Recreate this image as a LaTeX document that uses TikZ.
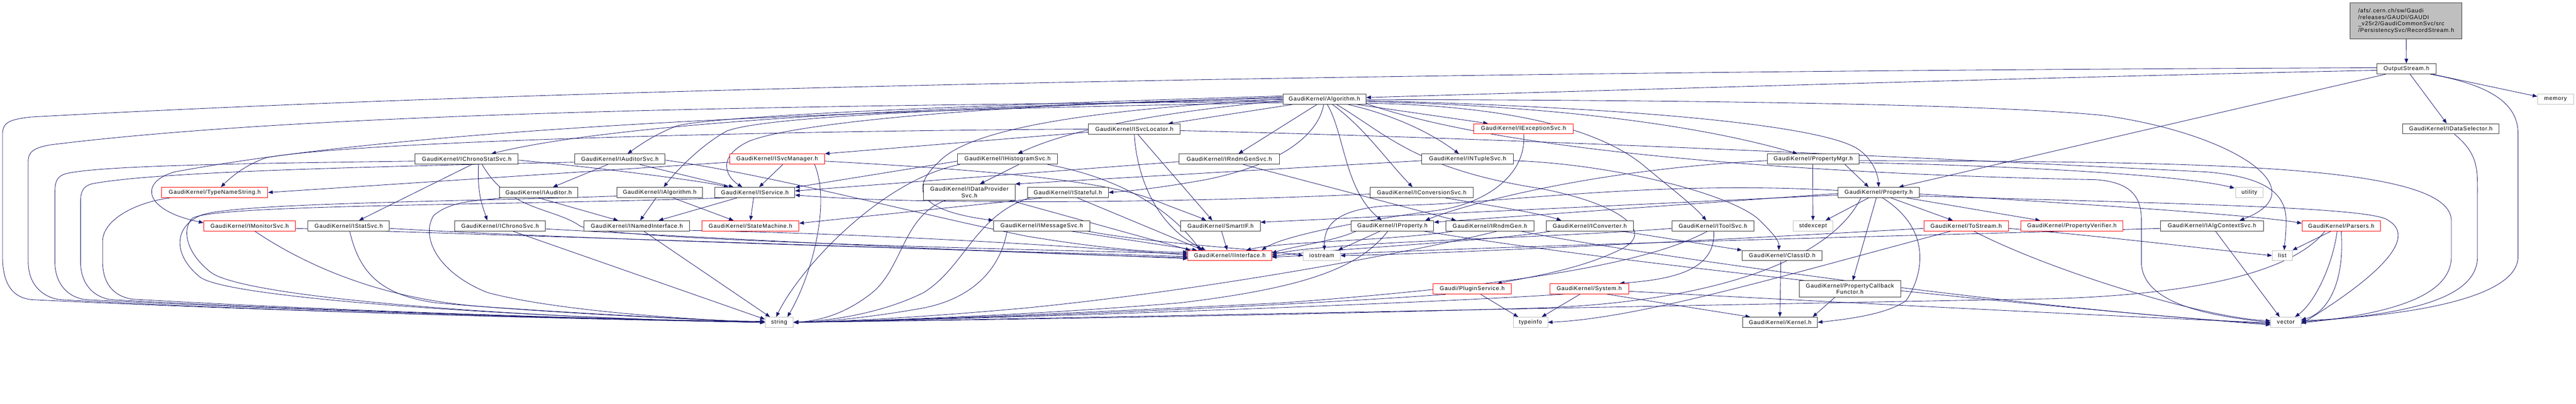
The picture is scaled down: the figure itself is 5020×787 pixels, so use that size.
\documentclass[tikz,border=0pt]{standalone}
\usepackage{fontspec}
\newfontfamily\dx{Liberation Sans}[LetterSpace=8]
\usetikzlibrary{arrows.meta,calc}
\pgfdeclarelayer{background}
\pgfsetlayers{background,main}
\definecolor{edgec}{HTML}{191970}
\definecolor{grayb}{HTML}{BFBFBF}
\definecolor{topfill}{HTML}{BFBFBF}
\tikzset{
 nd/.style={draw=black!80, line width=1pt, fill=white, inner sep=0pt, minimum height=20pt, align=center, font=\dx\fontsize{11}{12.5}\selectfont},
 rd/.style={nd, draw=red},
 gn/.style={nd, draw=grayb},
 e/.style={draw=edgec, line width=0.85pt, -{Triangle[length=9pt,width=7pt]}},
}
\begin{document}
\begin{tikzpicture}[x=1pt,y=-1pt]
\useasboundingbox (0,0) rectangle (5020,787);
% nodes
\node[nd, fill=topfill, align=left, minimum width=218pt, minimum height=70pt] (top) at (4689,41) {/afs/.cern.ch/sw/Gaudi\\/releases/GAUDI/GAUDI\\\_v25r2/GaudiCommonSvc/src\\/PersistencySvc/RecordStream.h};
\node[nd, minimum width=115pt] (os) at (4689.5,134) {OutputStream.h};
\node[gn, minimum width=70pt] (mem) at (4980,193) {memory};
\node[nd, minimum width=188pt] (ids) at (4776,251) {GaudiKernel/IDataSelector.h};
\node[nd, minimum width=162pt] (alg) at (2581,193) {GaudiKernel/Algorithm.h};
\node[nd, minimum width=179pt] (isl) at (2210.5,251.5) {GaudiKernel/ISvcLocator.h};
\node[rd, minimum width=194pt] (ies) at (2969,251) {GaudiKernel/IExceptionSvc.h};
\node[nd, minimum width=178pt] (intu) at (2860,310) {GaudiKernel/INTupleSvc.h};
\node[nd, minimum width=195pt] (irgs) at (2395.5,310) {GaudiKernel/IRndmGenSvc.h};
\node[nd, minimum width=195pt] (ihs) at (1963.5,310) {GaudiKernel/IHistogramSvc.h};
\node[rd, minimum width=185pt] (ism) at (1514.5,310) {GaudiKernel/ISvcManager.h};
\node[nd, minimum width=176pt] (ias) at (1208,310) {GaudiKernel/IAuditorSvc.h};
\node[nd, minimum width=201pt] (icss) at (909.5,310) {GaudiKernel/IChronoStatSvc.h};
\node[nd, minimum width=179pt] (pm) at (3533.5,310) {GaudiKernel/PropertyMgr.h};
\node[rd, minimum width=207pt] (tns) at (418.5,375) {GaudiKernel/TypeNameString.h};
\node[nd, minimum width=153pt] (iaud) at (1049.5,375) {GaudiKernel/IAuditor.h};
\node[nd, minimum width=167pt] (ialg) at (1285.5,375) {GaudiKernel/IAlgorithm.h};
\node[nd, minimum width=156pt] (isvc) at (1471,375) {GaudiKernel/IService.h};
\node[nd, minimum width=178pt, minimum height=31pt] (idps) at (1889,374.5) {GaudiKernel/IDataProvider\\Svc.h};
\node[nd, minimum width=158pt] (istf) at (2081,375) {GaudiKernel/IStateful.h};
\node[nd, minimum width=201pt] (ics) at (2770.5,375) {GaudiKernel/IConversionSvc.h};
\node[nd, minimum width=158pt] (prop) at (3661,375) {GaudiKernel/Property.h};
\node[gn, minimum width=53pt] (util) at (4383.5,375) {utility};
\node[rd, minimum width=179pt] (imon) at (486.5,440) {GaudiKernel/IMonitorSvc.h};
\node[nd, minimum width=159pt] (istat) at (679.5,440) {GaudiKernel/IStatSvc.h};
\node[nd, minimum width=177pt] (ichs) at (974.5,440) {GaudiKernel/IChronoSvc.h};
\node[nd, minimum width=206pt] (ini) at (1241,440) {GaudiKernel/INamedInterface.h};
\node[rd, minimum width=189pt] (sm) at (1462.5,440) {GaudiKernel/StateMachine.h};
\node[nd, minimum width=188pt] (ims) at (2030,440) {GaudiKernel/IMessageSvc.h};
\node[nd, minimum width=155pt] (sif) at (2378.5,440) {GaudiKernel/SmartIF.h};
\node[nd, minimum width=161pt] (iprop) at (2713.5,440) {GaudiKernel/IProperty.h};
\node[nd, minimum width=171pt] (irg) at (2903.5,440) {GaudiKernel/IRndmGen.h};
\node[nd, minimum width=170pt] (iconv) at (3098,440) {GaudiKernel/IConverter.h};
\node[nd, minimum width=160pt] (its) at (3338,440) {GaudiKernel/IToolSvc.h};
\node[gn, minimum width=78pt] (stdx) at (3533,440) {stdexcept};
\node[rd, minimum width=165pt] (tos) at (3831.5,440) {GaudiKernel/ToStream.h};
\node[rd, minimum width=199pt] (pv) at (4037.5,440) {GaudiKernel/PropertyVerifier.h};
\node[nd, minimum width=201pt] (iacs) at (4310.5,440) {GaudiKernel/IAlgContextSvc.h};
\node[rd, minimum width=153pt] (pars) at (4562.5,440) {GaudiKernel/Parsers.h};
\node[rd, minimum width=163pt] (ii) at (2396.5,498) {GaudiKernel/IInterface.h};
\node[gn, minimum width=72pt] (iost) at (2576,498) {iostream};
\node[nd, minimum width=156pt] (cid) at (3473,498) {GaudiKernel/ClassID.h};
\node[gn, minimum width=39pt] (list) at (4447.5,498) {list};
\node[nd, minimum width=198pt, minimum height=32pt] (pcf) at (3605,563) {GaudiKernel/PropertyCallback\\Functor.h};
\node[rd, minimum width=152pt] (ps) at (2869,563) {Gaudi/PluginService.h};
\node[rd, minimum width=154pt] (sys) at (3097,562.5) {GaudiKernel/System.h};
\node[gn, minimum width=55pt] (str) at (1518.5,628) {string};
\node[gn, minimum width=67pt] (tinfo) at (2982.5,628) {typeinfo};
\node[nd, minimum width=146pt] (kern) at (3469,628) {GaudiKernel/Kernel.h};
\node[gn, minimum width=59pt] (vec) at (4454.5,628) {vector};
\begin{pgfonlayer}{background}
% top / OutputStream
\draw[e] (top) -- (os);
\draw[e] ($(os.south east)+(-8,0)$) -- ($(mem.west)+(0,-5)$);
\draw[e] ($(os.south)+(7,0)$) -- ($(ids.north)+(-8,0)$);
\draw[e] ($(os.south east)+(-12,0)$) .. controls (4850,165) and (4907,200) .. (4907,260) -- (4907,500) .. controls (4907,580) and (4700,615) .. ($(vec.east)+(0,-3)$);
\draw[e] ($(os.west)+(0,-2)$) .. controls (3000,138) and (1200,165) .. (60,228) .. controls (15,233) and (5,240) .. (5,262) -- (5,500) .. controls (5,560) and (30,582) .. (65,584) .. controls (500,605) and (1100,622) .. ($(str.west)+(0,-2)$);
\draw[e] ($(os.west)+(0,3)$) .. controls (4000,150) and (3000,180) .. ($(alg.east)+(0,-3)$);
\draw[e] ($(os.south west)+(18,0)$) -- ($(prop.north east)+(-40,0)$);
\draw[e] ($(ids.south)+(7,0)$) .. controls (4830,300) and (4828,330) .. (4828,380) -- (4828,500) .. controls (4828,580) and (4700,612) .. ($(vec.east)+(0,-1)$);
% Algorithm
\draw[e] ($(alg.south west)+(20,0)$) -- ($(isl.north east)+(-24,0)$);
\draw[e] ($(alg.south west)+(67,0)$) -- ($(irgs.north)+(18,0)$);
\draw[e] ($(alg.south west)+(80,0)$) .. controls (2570,260) and (2500,320) .. (2350,350) .. controls (2250,368) and (2200,372) .. (istf.east);
\draw[e] ($(alg.west)+(0,3)$) .. controls (2300,215) and (2100,245) .. ($(ihs.north east)+(-78,0)$);
\draw[e] (alg.west) .. controls (2200,210) and (1900,240) .. (1830,315) .. controls (1770,370) and (1790,410) .. (ims.north west);
\draw[e] ($(alg.west)+(0,-2)$) .. controls (2000,200) and (1560,235) .. (1460,275) .. controls (1395,305) and (1415,345) .. ($(isvc.north west)+(54,0)$);
\draw[e] ($(alg.west)+(0,-4)$) .. controls (1900,212) and (1500,225) .. (1417,255) .. controls (1370,280) and (1320,330) .. ($(ialg.north)+(8,0)$);
\draw[e] ($(alg.west)+(0,-6)$) .. controls (1900,205) and (1400,225) .. (1320,245) .. controls (1280,260) and (1250,280) .. ($(ias.north)+(15,0)$);
\draw[e] ($(alg.west)+(0,1)$) .. controls (1800,205) and (1200,240) .. ($(icss.north east)+(-53,0)$);
\draw[e] ($(alg.west)+(0,7)$) .. controls (1600,215) and (800,250) .. (340,335) .. controls (270,355) and (280,410) .. ($(imon.west)+(0,-6)$);
\draw[e] ($(alg.west)+(0,5)$) .. controls (1500,205) and (600,220) .. (100,282) .. controls (62,288) and (55,298) .. (55,315) -- (55,510) .. controls (55,560) and (90,582) .. (120,584) .. controls (500,605) and (1100,622) .. (str.west);
\draw[e] ($(alg.south west)+(87,0)$) .. controls (2620,260) and (2620,370) .. ($(iprop.north west)+(60,0)$);
\draw[e] ($(alg.south west)+(97,0)$) .. controls (2660,250) and (2700,310) .. ($(ics.north west)+(83,0)$);
\draw[e] ($(alg.south west)+(127,0)$) .. controls (2720,225) and (2790,260) .. ($(intu.north)+(-17,0)$);
\draw[e] ($(alg.south east)+(-19,0)$) -- ($(ies.north west)+(28,0)$);
\draw[e] ($(alg.south west)+(105,0)$) .. controls (2700,260) and (2760,330) .. (3000,367) .. controls (3150,395) and (3230,450) .. (3160,485) .. controls (3080,525) and (2980,540) .. ($(ps.north east)+(-28,0)$);
\draw[e] ($(alg.east)+(0,8)$) .. controls (2900,205) and (3100,240) .. (3200,320) .. controls (3260,370) and (3300,400) .. ($(its.north)+(-13,0)$);
\draw[e] ($(alg.east)+(0,5)$) .. controls (3000,205) and (3300,240) .. ($(pm.north west)+(59,0)$);
\draw[e] ($(alg.east)+(0,3)$) .. controls (3200,210) and (3550,245) .. (3620,290) .. controls (3650,310) and (3660,340) .. (prop.north);
\draw[e] ($(alg.east)+(0,1)$) .. controls (3400,195) and (3900,205) .. (4100,225) .. controls (4350,260) and (4520,370) .. ($(iacs.north east)+(-47,0)$);
\draw[e] ($(alg.east)+(0,9)$) .. controls (3000,320) and (3800,345) .. (4083,350) .. controls (4160,355) and (4173,390) .. (4173,430) -- (4173,510) .. controls (4173,590) and (4300,615) .. (vec.west);
% ISvcLocator
\draw[e] ($(isl.west)+(0,6)$) -- (ism.north east);
\draw[e] (isl.west) .. controls (1500,255) and (700,275) .. (520,307) .. controls (480,320) and (450,345) .. ($(tns.north)+(12,0)$);
\draw[e] ($(isl.south west)+(90,0)$) .. controls (2215,340) and (2250,440) .. ($(ii.north west)+(35,0)$);
\draw[e] ($(isl.south west)+(97,0)$) -- ($(sif.north west)+(62,0)$);
\draw[e] ($(isl.east)+(0,3)$) .. controls (3000,270) and (4000,320) .. (4300,335) .. controls (4420,345) and (4455,380) .. (4455,430) .. controls (4455,460) and (4452,475) .. ($(list.north)+(4,0)$);
% ISvcManager
\draw[e] ($(ism.south east)+(-82,0)$) -- ($(isvc.north east)+(-70,0)$);
\draw[e] ($(ism.west)+(0,6)$) -- (tns.east);
\draw[e] ($(ism.east)+(0,4)$) .. controls (1900,330) and (2150,350) .. (2250,390) .. controls (2300,410) and (2330,420) .. ($(sif.north west)+(50,0)$);
\draw[e] ($(ism.south east)+(-20,0)$) .. controls (1620,400) and (1580,540) .. ($(str.north east)+(-12,0)$);
% IChronoStatSvc
\draw[e] ($(icss.south west)+(111,0)$) -- ($(istat.north east)+(-60,0)$);
\draw[e] ($(icss.south west)+(124,0)$) .. controls (930,380) and (940,400) .. ($(ichs.north west)+(64,0)$);
\draw[e] ($(icss.east)+(0,2)$) .. controls (1200,330) and (1380,355) .. ($(isvc.north west)+(27,0)$);
\draw[e] ($(icss.south west)+(131,0)$) .. controls (990,410) and (1080,405) .. (1130,440) .. controls (1170,465) and (1800,482) .. ($(ii.west)+(0,-4)$);
\draw[e] ($(icss.west)+(0,4)$) .. controls (500,318) and (200,322) .. (130,338) .. controls (110,343) and (107,355) .. (107,375) -- (107,510) .. controls (107,560) and (140,582) .. (170,584) .. controls (600,606) and (1200,623) .. (str.west);
% IAuditorSvc
\draw[e] ($(ias.south west)+(65,0)$) -- ($(iaud.north west)+(105,0)$);
\draw[e] ($(ias.south west)+(127,0)$) -- ($(isvc.north west)+(37,0)$);
\draw[e] ($(ias.east)+(0,2)$) .. controls (1500,340) and (1800,420) .. (2000,460) .. controls (2150,485) and (2250,492) .. ($(ii.west)+(0,-7)$);
\draw[e] ($(ias.west)+(0,6)$) .. controls (700,325) and (300,335) .. (180,358) .. controls (160,363) and (157,375) .. (157,395) -- (157,510) .. controls (157,560) and (190,582) .. (220,584) .. controls (600,605) and (1200,623) .. (str.west);
% IAuditor, IAlgorithm, IService
\draw[e] ($(iaud.south west)+(77,0)$) -- ($(ini.north west)+(67,0)$);
\draw[e] ($(iaud.south west)+(5,0)$) .. controls (930,392) and (880,390) .. (845,420) .. controls (820,460) and (850,530) .. (950,570) .. controls (1100,610) and (1400,625) .. (str.west);
\draw[e] ($(ialg.south west)+(77,0)$) -- ($(ini.north west)+(110,0)$);
\draw[e] ($(ialg.south west)+(110,0)$) -- ($(sm.north west)+(62,0)$);
\draw[e] ($(ialg.west)+(0,7)$) .. controls (900,393) and (450,395) .. (390,420) .. controls (335,445) and (340,500) .. (390,540) .. controls (450,585) and (1100,622) .. (str.west);
\draw[e] ($(isvc.south west)+(44,0)$) -- ($(ini.north east)+(-61,0)$);
\draw[e] ($(isvc.south west)+(76,0)$) -- ($(sm.north west)+(95,0)$);
\draw[e] ($(isvc.south west)+(20,0)$) .. controls (1000,400) and (420,398) .. (375,425) .. controls (355,445) and (360,490) .. (410,530) .. controls (480,585) and (1100,623) .. (str.west);
% INamedInterface, IStatSvc, IChronoSvc, IMonitorSvc, TypeNameString
\draw[e] ($(ini.south west)+(117,0)$) -- ($(str.north west)+(10,0)$);
\draw[e] ($(ini.east)+(0,9)$) .. controls (1700,455) and (2100,480) .. ($(ii.west)+(0,-1)$);
\draw[e] ($(istat.east)+(0,5)$) .. controls (1200,470) and (2000,490) .. ($(ii.west)+(0,2)$);
\draw[e] ($(istat.south west)+(82,0)$) .. controls (700,530) and (740,575) .. (850,590) .. controls (1100,612) and (1350,622) .. (str.west);
\draw[e] ($(ichs.east)+(0,6)$) .. controls (1500,470) and (2000,495) .. ($(ii.west)+(0,4)$);
\draw[e] ($(ichs.south west)+(114,0)$) -- ($(str.west)+(0,-6)$);
\draw[e] ($(imon.south west)+(100,0)$) .. controls (600,520) and (750,585) .. (950,598) .. controls (1150,612) and (1350,622) .. (str.west);
\draw[e] ($(imon.east)+(0,5)$) .. controls (1200,465) and (2000,490) .. ($(ii.west)+(0,6)$);
\draw[e] ($(tns.south west)+(17,0)$) .. controls (260,395) and (200,430) .. (200,470) -- (200,510) .. controls (200,560) and (230,580) .. (260,583) .. controls (700,608) and (1200,622) .. (str.west);
% IHistogramSvc, IDataProviderSvc, IStateful, IMessageSvc, SmartIF
\draw[e] ($(ihs.south west)+(120,0)$) -- ($(idps.north west)+(110,0)$);
\draw[e] ($(ihs.west)+(0,4)$) -- ($(isvc.east)+(0,-10)$);
\draw[e] ($(ihs.south west)+(5,0)$) .. controls (1720,350) and (1560,520) .. ($(str.north)+(-6,0)$);
\draw[e] ($(ihs.south east)+(-20,0)$) .. controls (2200,350) and (2290,420) .. ($(ii.north west)+(25,0)$);
\draw[e] ($(idps.south west)+(43,0)$) .. controls (1760,420) and (1760,520) .. (1700,570) .. controls (1650,610) and (1600,625) .. (str.east);
\draw[e] ($(idps.south east)+(-10,0)$) -- ($(ii.north west)+(5,0)$);
\draw[e] ($(istf.south west)+(98,0)$) -- ($(ii.north west)+(30,0)$);
\draw[e] ($(istf.south west)+(30,0)$) -- ($(sm.east)+(0,-5)$);
\draw[e] ($(istf.south west)+(5,0)$) .. controls (1900,420) and (1880,520) .. (1800,570) .. controls (1720,610) and (1620,625) .. (str.east);
\draw[e] ($(ims.south east)+(-37,0)$) -- ($(ii.north west)+(18,0)$);
\draw[e] ($(ims.south west)+(27,0)$) .. controls (1950,520) and (1900,580) .. (1800,600) .. controls (1700,618) and (1600,628) .. (str.east);
\draw[e] ($(ims.south east)+(-5,0)$) .. controls (2250,475) and (2450,485) .. (iost.west);
\draw[e] ($(sif.south west)+(80,0)$) -- ($(ii.north west)+(77,0)$);
% IRndmGenSvc, IRndmGen, IConversionSvc
\draw[e] ($(irgs.south west)+(125,0)$) -- ($(irg.north west)+(20,0)$);
\draw[e] ($(irgs.west)+(0,5)$) -- ($(isvc.east)+(0,-3)$);
\draw[e] ($(irg.south west)+(15,0)$) .. controls (2700,470) and (2500,470) .. ($(ii.north east)+(-50,0)$);
\draw[e] ($(irg.south west)+(100,0)$) .. controls (2800,480) and (2400,560) .. (2000,600) .. controls (1800,618) and (1650,626) .. (str.east);
\draw[e] ($(irg.south east)+(-25,0)$) .. controls (3100,480) and (3900,600) .. ($(vec.west)+(0,3)$);
\draw[e] ($(ics.south west)+(147,0)$) .. controls (2900,400) and (3000,415) .. ($(iconv.north west)+(30,0)$);
\draw[e] ($(ics.west)+(0,3)$) .. controls (2300,395) and (1800,400) .. ($(isvc.east)+(0,5)$);
% IProperty, IConverter, IToolSvc
\draw[e] ($(iprop.south west)+(57,0)$) -- ($(iost.north east)+(-5,0)$);
\draw[e] ($(iprop.south west)+(72,0)$) .. controls (2650,520) and (2550,560) .. (2300,590) .. controls (2000,615) and (1700,625) .. (str.east);
\draw[e] ($(iprop.south west)+(10,0)$) .. controls (2600,470) and (2520,480) .. ($(ii.east)+(0,-5)$);
\draw[e] ($(iprop.south east)+(-20,0)$) .. controls (3200,520) and (4000,600) .. ($(vec.west)+(0,5)$);
\draw[e] ($(iconv.south east)+(-23,0)$) -- (cid.north west);
\draw[e] ($(iconv.south west)+(10,0)$) .. controls (2900,470) and (2600,485) .. ($(ii.east)+(0,1)$);
\draw[e] ($(its.south west)+(82,0)$) .. controls (3345,530) and (3250,545) .. ($(sys.north east)+(-18,0)$);
\draw[e] ($(its.west)+(0,5)$) .. controls (3000,465) and (2600,470) .. ($(ii.east)+(0,-2)$);
\draw[e] ($(its.south west)+(70,0)$) .. controls (3200,520) and (2900,560) .. (2500,590) .. controls (2000,615) and (1700,626) .. (str.east);
% ClassID, System, PluginService, Functor
\draw[e] ($(cid.south west)+(76,0)$) -- ($(kern.north west)+(73,0)$);
\draw[e] ($(sys.south east)+(-44,0)$) -- ($(kern.north west)+(15,0)$);
\draw[e] ($(sys.south west)+(60,0)$) -- ($(tinfo.north east)+(-12,0)$);
\draw[e] ($(sys.south west)+(30,0)$) .. controls (2800,590) and (2000,620) .. (str.east);
\draw[e] ($(sys.east)+(0,5)$) .. controls (3600,590) and (4200,620) .. ($(vec.west)+(0,1)$);
\draw[e] ($(ps.south east)+(-60,0)$) -- ($(tinfo.north west)+(10,0)$);
\draw[e] ($(ps.south west)+(25,0)$) .. controls (2600,590) and (2000,620) .. (str.east);
\draw[e] ($(pcf.south west)+(70,0)$) -- ($(kern.north east)+(-10,0)$);
% PropertyMgr, INTupleSvc
\draw[e] ($(pm.south west)+(89,0)$) -- (stdx.north);
\draw[e] ($(pm.south west)+(152,0)$) -- ($(prop.north west)+(60,0)$);
\draw[e] ($(pm.east)+(0,3)$) .. controls (4300,315) and (4777,320) .. (4777,430) -- (4777,500) .. controls (4777,580) and (4650,612) .. ($(vec.east)+(0,1)$);
\draw[e] ($(pm.east)+(0,7)$) .. controls (3900,322) and (4250,340) .. ($(util.north west)+(-2,2)$);
\draw[e] ($(pm.west)+(0,3)$) .. controls (3100,330) and (2850,400) .. ($(iprop.north east)+(-17,0)$);
\draw[e] ($(intu.west)+(0,3)$) -- ($(idps.east)+(0,-16)$);
\draw[e] ($(intu.east)+(0,3)$) .. controls (3150,320) and (3380,380) .. (3430,430) .. controls (3460,460) and (3467,470) .. ($(cid.north west)+(72,0)$);
% Property
\draw[e] ($(prop.south west)+(60,0)$) -- ($(stdx.north east)+(-15,0)$);
\draw[e] ($(prop.south west)+(103,0)$) -- ($(tos.north west)+(57,0)$);
\draw[e] ($(prop.south east)+(-25,0)$) -- ($(pv.north west)+(38,0)$);
\draw[e] ($(prop.south west)+(75,0)$) -- ($(pcf.north west)+(105,0)$);
\draw[e] ($(prop.south west)+(87,0)$) .. controls (3770,450) and (3745,540) .. (3715,585) .. controls (3680,612) and (3600,622) .. (kern.east);
\draw[e] ($(prop.east)+(0,3)$) .. controls (4100,400) and (4400,420) .. ($(pars.west)+(0,-5)$);
\draw[e] ($(prop.east)+(0,7)$) .. controls (4300,398) and (4630,405) .. (4655,430) .. controls (4720,470) and (4600,560) .. ($(vec.east)+(0,3)$);
\draw[e] ($(prop.west)+(0,2)$) -- ($(iprop.east)+(0,-7)$);
\draw[e] ($(prop.west)+(0,5)$) -- ($(sif.east)+(0,-7)$);
\draw[e] ($(prop.west)+(0,-4)$) .. controls (3200,350) and (2900,400) .. (2720,400) .. controls (2600,405) and (2580,440) .. ($(iost.north)+(5,0)$);
\draw[e] ($(prop.south west)+(45,0)$) .. controls (3560,520) and (3300,590) .. (3000,600) .. controls (2500,615) and (1800,625) .. (str.east);
% ToStream, IAlgContextSvc, Parsers, IExceptionSvc
\draw[e] ($(tos.south west)+(53,0)$) .. controls (3500,530) and (3200,620) .. (tinfo.east);
\draw[e] ($(tos.south west)+(98,0)$) .. controls (4000,530) and (4300,620) .. ($(vec.west)+(0,-3)$);
\draw[e] ($(tos.east)+(0,5)$) .. controls (4100,460) and (4300,485) .. (list.west);
\draw[e] ($(tos.west)+(0,5)$) .. controls (3300,470) and (2800,495) .. (iost.east);
\draw[e] ($(iacs.west)+(0,5)$) .. controls (3800,458) and (3000,475) .. ($(ii.east)+(0,3)$);
\draw[e] ($(iacs.south west)+(108,0)$) -- ($(vec.north west)+(18,0)$);
\draw[e] ($(pars.south west)+(57,0)$) -- (list.north east);
\draw[e] ($(pars.south west)+(69,0)$) .. controls (4545,520) and (4510,590) .. ($(vec.north east)+(-12,0)$);
\draw[e] ($(pars.south west)+(77,0)$) .. controls (4570,560) and (4530,612) .. ($(vec.east)+(0,-5)$);
\draw[e] ($(pars.south west)+(45,0)$) .. controls (4500,490) and (4400,570) .. (4000,582) .. controls (3000,600) and (2000,622) .. (str.east);
\draw[e] ($(ies.south west)+(98,0)$) .. controls (2975,350) and (2880,400) .. (2800,410) .. controls (2650,430) and (2500,460) .. ($(ii.north east)+(-20,0)$);
\end{pgfonlayer}
\end{tikzpicture}
\end{document}
